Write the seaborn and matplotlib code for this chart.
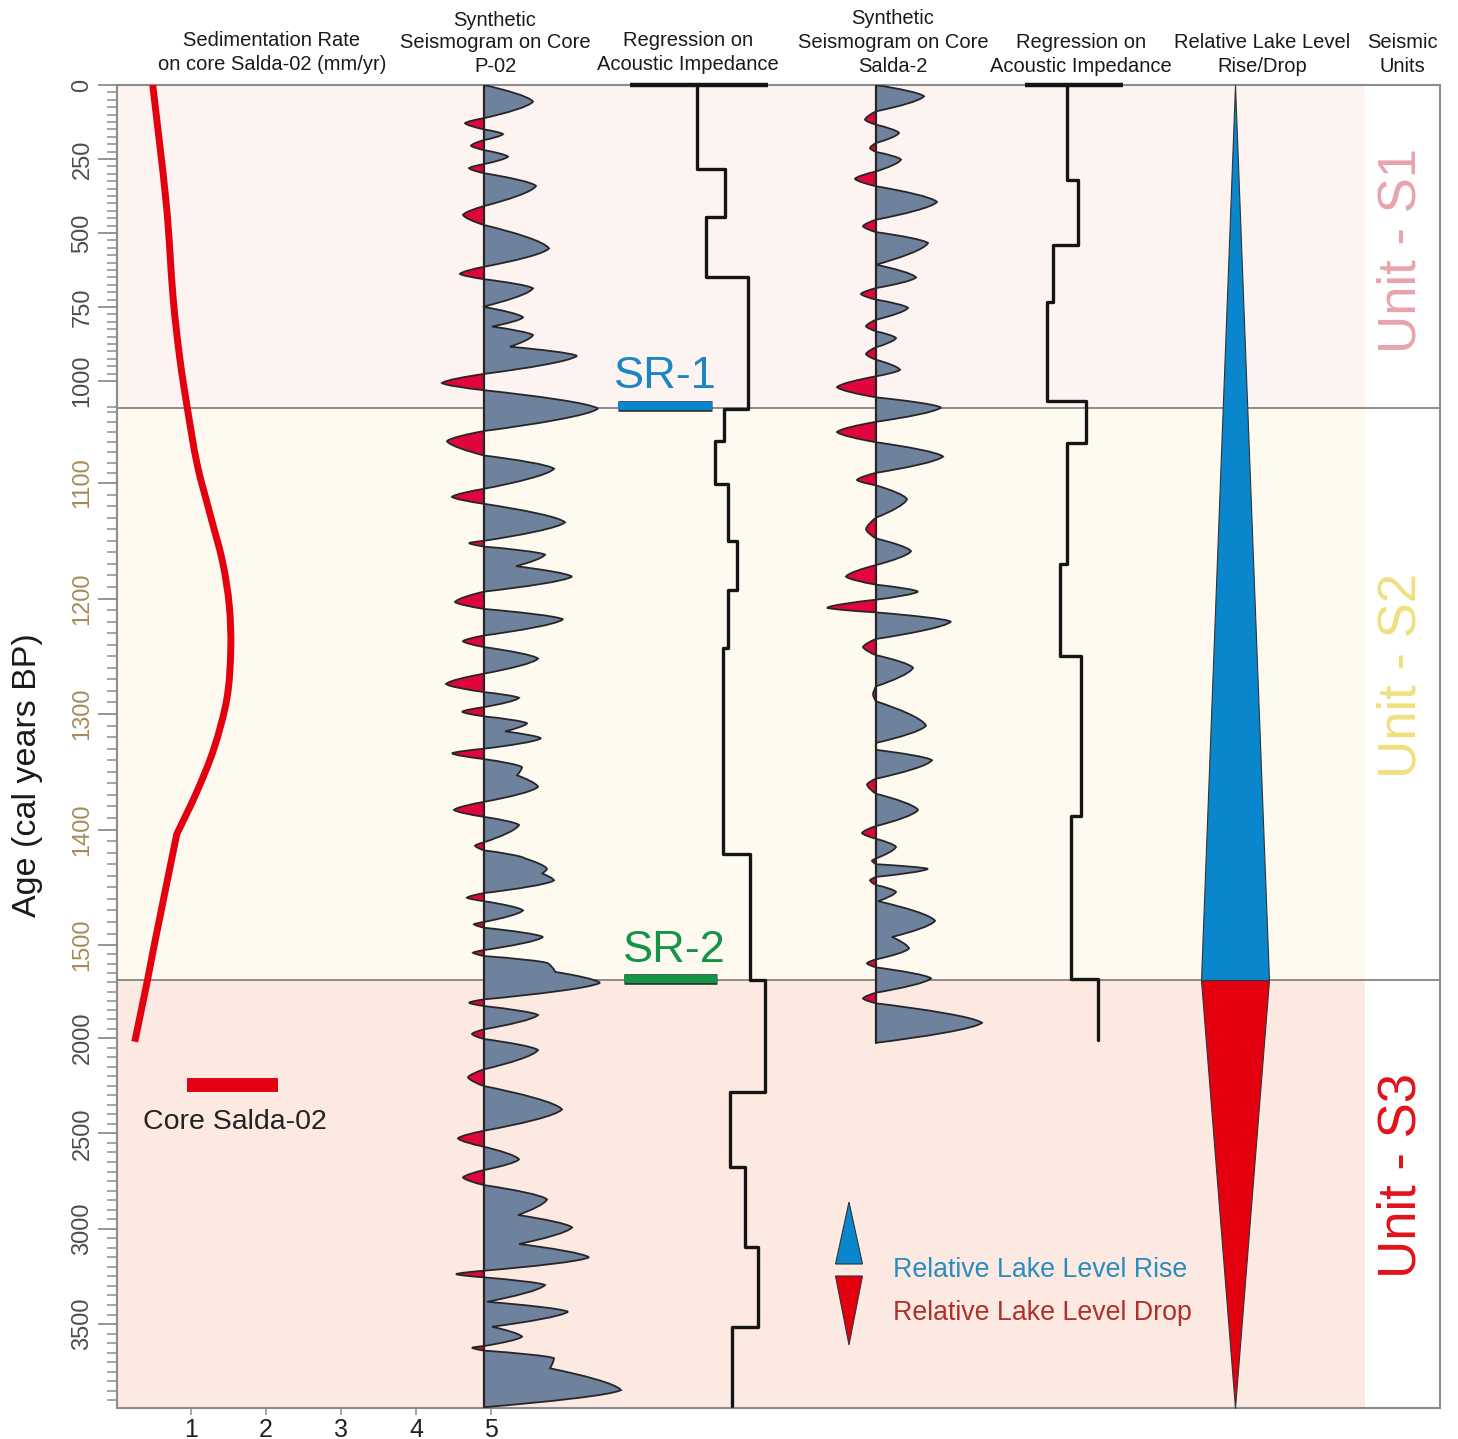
import numpy as np
import matplotlib
matplotlib.use("Agg")
import matplotlib.pyplot as plt
import matplotlib.transforms as mtransforms
import seaborn as sns
from matplotlib.patches import Polygon, PathPatch, Rectangle
from matplotlib.path import Path
from matplotlib.ticker import FixedLocator

# ---------------- data ----------------
# Sedimentation rate on core Salda-02 (mm/yr) vs age (cal yr BP)
SED_AGE = [0, 401, 714, 922, 1026, 1081, 1126, 1168, 1206, 1244, 1286, 1329, 1367, 1404, 1500, 1688, 2019]
SED_RATE = [0.49, 0.67, 0.76, 0.85, 0.95, 1.08, 1.25, 1.42, 1.51, 1.53, 1.48, 1.31, 1.08, 0.81, 0.51, 0.42, 0.25]
SED_KINK = 1404

# Synthetic seismogram on core P-02 (relative amplitude)
P02_AGE = [0, 56, 112, 129, 150, 166, 186, 205, 220, 242, 267, 281, 298, 341, 409, 439, 473, 552, 614, 638,
           656, 687, 749, 785, 816, 845, 884, 915, 976, 1002, 1009, 1027, 1049, 1059, 1073, 1086, 1105, 1112,
           1118, 1134, 1150, 1152, 1155, 1162, 1172, 1181, 1194, 1203, 1209, 1218, 1232, 1237, 1242, 1252,
           1265, 1274, 1281, 1286, 1294, 1298, 1302, 1308, 1315, 1321, 1330, 1334, 1339, 1346, 1353, 1363,
           1376, 1383, 1389, 1396, 1411, 1414, 1418, 1425, 1434, 1438, 1444, 1455, 1459, 1462, 1470, 1480,
           1482, 1485, 1493, 1527, 1541, 1559, 1598, 1644, 1703, 1792, 1810, 1828, 1876, 1953, 1978, 2005,
           2063, 2164, 2206, 2252, 2374, 2486, 2526, 2570, 2636, 2692, 2731, 2771, 2846, 2928, 2993, 3080,
           3150, 3220, 3238, 3255, 3295, 3383, 3435, 3514, 3566, 3615, 3624, 3639, 3679, 3732, 3846, 3936]
P02_AMP = [0, 0.49, 0, -0.19, 0, 0.19, 0, -0.13, 0, 0.24, 0, -0.15, 0, 0.52, 0, -0.21, 0, 0.65, 0, -0.24,
           0, 0.49, -0.01, 0.39, 0.08, 0.49, 0.26, 0.93, 0, -0.42, 0, 1.14, 0, -0.37, 0, 0.70, 0, -0.32,
           0, 0.81, 0, -0.15, 0, 0.61, 0.32, 0.88, 0, -0.29, 0, 0.79, 0, -0.21, 0, 0.54,
           0, -0.38, 0, 0.35, 0, -0.22, 0, 0.43, 0.21, 0.57, 0, -0.32, 0, 0.38, 0.33, 0.54,
           0, -0.30, 0, 0.35, 0, -0.09, 0, 0.41, 0.63, 0.58, 0.70, 0, -0.17, 0, 0.39, 0,
           -0.10, 0, 0.59, 0, -0.11, 0, 0.64, 0.71, 1.16, 0, -0.15, 0, 0.54, 0, -0.12, 0,
           0.54, 0, -0.16, 0, 0.78, 0, -0.26, 0, 0.35, 0, -0.21, 0, 0.63, 0.34, 0.88, 0.35,
           1.05, 0, -0.28, 0, 0.61, 0.03, 0.84, 0.08, 0.38, 0, -0.12, 0, 0.70, 0.66, 1.37, 0]

# Synthetic seismogram on core Salda-2 (relative amplitude)
S2_AGE = [0, 38, 89, 117, 134, 162, 196, 213, 226, 252, 292, 317, 342, 395, 455, 477, 497, 534, 607, 650,
          686, 706, 725, 753, 793, 815, 832, 855, 886, 909, 928, 962, 984, 1006, 1016, 1026, 1040, 1050,
          1060, 1074, 1090, 1097, 1102, 1114, 1130, 1140, 1148, 1159, 1171, 1181, 1188, 1194, 1201, 1208,
          1212, 1220, 1235, 1242, 1249, 1260, 1276, 1283, 1289, 1310, 1325, 1331, 1340, 1356, 1361, 1369,
          1383, 1397, 1403, 1408, 1415, 1425, 1427, 1430, 1434, 1441, 1444, 1448, 1454, 1462, 1479, 1493,
          1518, 1577, 1598, 1620, 1679, 1756, 1787, 1813, 1918, 2025]
S2_AMP = [0, 0.48, 0, -0.11, 0, 0.23, 0, -0.06, 0, 0.25, 0, -0.21, 0, 0.61, 0, -0.13, 0, 0.52, 0, 0.40,
          0, -0.15, 0, 0.32, 0, -0.10, 0, 0.20, 0, -0.10, 0, 0.24, 0, -0.39, 0, 0.65, 0, -0.39,
          0, 0.67, 0, -0.19, 0, 0.31, 0, -0.10, 0, 0.35, 0, -0.30, 0, 0.42, 0, -0.49,
          0, 0.75, 0, -0.13, 0, 0.37, 0, -0.03, 0, 0.50, 0, 0, 0.56, 0, -0.09, 0,
          0.42, 0, -0.14, 0, 0.20, 0, -0.04, 0, 0.52, 0, -0.06, 0, 0.20, 0.02, 0.59, 0.16,
          0.33, 0, -0.09, 0, 0.55, 0, -0.13, 0, 1.06, 0]

# Regression on acoustic impedance (step curves: top age of each step and value)
IMP1_TOP = [0, 285, 445, 648, 1027, 1059, 1101, 1150, 1193, 1243, 1421, 1688, 2282, 2675, 3094, 3514]
IMP1_VAL = [6.7, 9.5, 7.6, 11.8, 9.4, 8.5, 9.8, 10.7, 9.8, 9.3, 12.0, 13.5, 10.0, 11.5, 12.8, 10.2]
IMP1_END = 3930
IMP1_CAP = 13.8
IMP2_TOP = [0, 320, 539, 733, 1020, 1061, 1170, 1250, 1388, 1684]
IMP2_VAL = [4.2, 5.3, 2.8, 2.2, 6.1, 4.2, 3.5, 5.6, 4.6, 7.3]
IMP2_END = 2010
IMP2_CAP = 9.8

# Relative lake level (half-width of the wedge)
LAKE_AGE = [0, 1688, 3940]
LAKE_HALF = [0, 1, 0]

# Seismic reflectors / unit boundaries
SR1_AGE, SR2_AGE = 1026, 1688
AGE_MAX = 3940

YTICKS = [0, 250, 500, 750, 1000, 1100, 1200, 1300, 1400, 1500, 2000, 2500, 3000, 3500]
XTICKS = [1, 2, 3, 4, 5]
UNITS = ["Unit - S1", "Unit - S2", "Unit - S3"]

# ---------------- style ----------------
W, H = 1458, 1439
sns.set_theme(style="white")
plt.rcParams["font.family"] = ["Liberation Sans", "DejaVu Sans"]

POS_C = "#6e819d"
NEG_C = "#e0063c"
OUT_C = "#262626"
RED = "#e3000f"
BLUE = "#0a86cd"
BAND = ["#fdf3f0", "#fefaf0", "#fce9e2"]
GRAY = "#8c8c8c"

fig = plt.figure(figsize=(W / 100, H / 100), dpi=100)
fig.patch.set_facecolor("white")

X0, X1, YT, YB = 117, 1440, 85, 1408

# piecewise-linear age axis of the original figure
AGE_KNOTS = np.array([-1000, 0, 1000, 1100, 1500, 2000, 3500, 10000], dtype=float)
POS_KNOTS = np.array([-296, 0, 296, 398, 860, 953, 1239, 2478.5], dtype=float)


def fwd(a):
    return np.interp(a, AGE_KNOTS, POS_KNOTS)


def inv(p):
    return np.interp(p, POS_KNOTS, AGE_KNOTS)


def px(x, y):
    return x / W, 1 - y / H


def make_axes(x0, x1, xlim, off=True):
    a = fig.add_axes([x0 / W, 1 - YB / H, (x1 - x0) / W, (YB - YT) / H])
    a.set_yscale("function", functions=(fwd, inv))
    a.set_xlim(*xlim)
    a.set_ylim(AGE_MAX, 0)
    if off:
        a.set_axis_off()
    return a


def wiggle_path(xs, ys):
    """Smooth wiggle trace through the read points (extrema and zero crossings)."""
    xs = np.asarray(xs, float)
    yp = fwd(np.asarray(ys, float))
    verts = [(xs[0], yp[0])]
    codes = [Path.MOVETO]
    for i in range(len(xs) - 1):
        x0, x1 = xs[i], xs[i + 1]
        y0, y1 = yp[i], yp[i + 1]
        dx, dy = x1 - x0, y1 - y0
        if abs(x1) >= abs(x0):
            c1 = (x0 + 0.45 * dx, y0 + 0.3 * dy)
            c2 = (x0 + 0.93 * dx, y1 - 0.3 * dy)
        else:
            c1 = (x0 + 0.07 * dx, y0 + 0.3 * dy)
            c2 = (x0 + 0.55 * dx, y1 - 0.3 * dy)
        verts += [c1, c2, (x1, y1)]
        codes += [Path.CURVE4] * 3
    v = np.array(verts, float)
    v[:, 1] = inv(v[:, 1])
    return v, codes


def smooth_path(xs, ys, breaks=()):
    """Catmull-Rom curve through the read points, with corners kept at `breaks`."""
    xs = np.asarray(xs, float)
    ys = np.asarray(ys, float)
    cut = [0] + [int(np.where(ys == b)[0][0]) for b in breaks] + [len(xs) - 1]
    verts, codes = [], []
    for k in range(len(cut) - 1):
        P = np.column_stack([xs[cut[k]:cut[k + 1] + 1], fwd(ys[cut[k]:cut[k + 1] + 1])])
        n = len(P)
        if k == 0:
            verts.append(P[0])
            codes.append(Path.MOVETO)
        for i in range(n - 1):
            pm = P[i - 1] if i > 0 else P[i]
            pp = P[i + 2] if i + 2 < n else P[i + 1]
            verts += [P[i] + (P[i + 1] - pm) / 6, P[i + 1] - (pp - P[i]) / 6, P[i + 1]]
            codes += [Path.CURVE4] * 3
    v = np.array(verts, float)
    v[:, 1] = inv(v[:, 1])
    return Path(v, codes)


# ---------------- main frame (sedimentation rate) ----------------
ax = make_axes(X0, X1, (1 + (X0 - 191) / 75, 1 + (X1 - 191) / 75), off=False)
ax.set_facecolor("white")
frac = (1365 - X0) / (X1 - X0)
ax.axhspan(0, SR1_AGE, xmin=0, xmax=frac, color=BAND[0], lw=0, zorder=0)
ax.axhspan(SR1_AGE, SR2_AGE, xmin=0, xmax=frac, color=BAND[1], lw=0, zorder=0)
ax.axhspan(SR2_AGE, AGE_MAX, xmin=0, xmax=frac, color=BAND[2], lw=0, zorder=0)
for b in (SR1_AGE, SR2_AGE):
    ax.axhline(b, color="#7a7a7a", lw=1.2, zorder=1)

ax.add_patch(PathPatch(smooth_path(SED_RATE, SED_AGE, breaks=(SED_KINK,)), fill=False,
                       ec=RED, lw=5.0, capstyle="butt", joinstyle="miter", zorder=3))
# legend bar for the sed-rate curve
ax.plot([0.95, 2.16], [2246, 2246], color=RED, lw=10, solid_capstyle="butt", zorder=3)

ax.set_xlim(1 + (X0 - 191) / 75, 1 + (X1 - 191) / 75)
ax.set_ylim(AGE_MAX, 0)
ax.set_xlabel("")
ax.set_ylabel("")
for s in ax.spines.values():
    s.set_visible(True)
    s.set_color(GRAY)
    s.set_linewidth(1.5)

ax.yaxis.set_major_locator(FixedLocator(YTICKS))
minor = list(np.arange(0, 1030, 25)) + list(np.arange(1030, 1500, 10)) + list(np.arange(1550, AGE_MAX, 50))
ax.yaxis.set_minor_locator(FixedLocator(minor))
ax.set_yticklabels([str(v) for v in YTICKS], rotation=90, va="center", fontsize=17)
ax.tick_params(axis="y", which="major", left=True, length=14, width=1.3, pad=3, color=GRAY)
ax.tick_params(axis="y", which="minor", left=True, length=7, width=1.1, color=GRAY)
for lab, v in zip(ax.get_yticklabels(), YTICKS):
    lab.set_color("#a68a5b" if 1000 < v <= 1500 else "#4d4d4d")
for t, v in zip(ax.yaxis.get_major_ticks(), YTICKS):
    if v <= 1000:
        t.tick1line.set_color("#d8a3ab")
mlocs = ax.yaxis.get_minorticklocs()
for t, v in zip(ax.yaxis.get_minor_ticks(len(mlocs)), mlocs):
    if v <= 1030:
        t.tick1line.set_color("#d8a3ab")

ax.set_xticks(XTICKS)
ax.set_xticklabels([str(v) for v in XTICKS], fontsize=18, color="#222222")
ax.tick_params(axis="x", bottom=True, length=5, width=1.1, color=GRAY, pad=2)

# ---------------- synthetic seismograms ----------------
def seismo(a, age, amp):
    v, codes = wiggle_path(amp, age)
    closed = Path(np.vstack([v, [v[0], v[0]]]), codes + [Path.LINETO, Path.CLOSEPOLY])
    blend = mtransforms.blended_transform_factory(a.transData, a.transAxes)
    for color, x0 in ((POS_C, 0), (NEG_C, -100)):
        patch = PathPatch(closed, fc=color, ec="none", lw=0)
        a.add_patch(patch)
        clip = Rectangle((x0, -1), 100, 3, transform=blend)
        patch.set_clip_path(clip)
    a.add_patch(PathPatch(Path(v, codes), fill=False, ec=OUT_C, lw=1.3))
    a.plot([0, 0], [age[0], age[-1]], color=OUT_C, lw=1.6)
    a.set_ylim(AGE_MAX, 0)


ax_p02 = make_axes(420, 640, (-0.64, 1.56))
seismo(ax_p02, P02_AGE, P02_AMP)
ax_p02.set_xlim(-0.64, 1.56)

ax_s2 = make_axes(800, 1010, (-0.76, 1.34))
seismo(ax_s2, S2_AGE, S2_AMP)
ax_s2.set_xlim(-0.76, 1.34)

# ---------------- acoustic impedance steps ----------------
def steps(a, tops, vals, end, cap, xlim):
    ys = np.repeat(np.append(np.asarray(tops, float), end), 2)[1:-1]
    xs = np.repeat(np.asarray(vals, float), 2)
    sns.lineplot(x=xs, y=ys, orient="y", sort=False, estimator=None, ax=a,
                 color="#151515", lw=2.4)
    a.plot([0, cap], [0, 0], color="#151515", lw=3.2, clip_on=False, solid_capstyle="butt")
    a.set_xlim(*xlim)
    a.set_ylim(AGE_MAX, 0)


ax_i1 = make_axes(600, 790, (-3, 16))
steps(ax_i1, IMP1_TOP, IMP1_VAL, IMP1_END, IMP1_CAP, (-3, 16))
# seismic reflector markers
ax_i1.plot([-1.25, 8.15], [1024, 1024], color=BLUE, lw=6, solid_capstyle="butt", zorder=4)
ax_i1.plot([-1.25, 8.15], [1024, 1024], color="#2a2a2a", lw=7.6, solid_capstyle="butt", zorder=3)
ax_i1.plot([-0.6, 8.7], [1683, 1683], color="#149447", lw=6, solid_capstyle="butt", zorder=4)
ax_i1.plot([-0.6, 8.7], [1683, 1683], color="#2a2a2a", lw=7.6, solid_capstyle="butt", zorder=3)

ax_i2 = make_axes(1000, 1140, (-2.5, 11.5))
steps(ax_i2, IMP2_TOP, IMP2_VAL, IMP2_END, IMP2_CAP, (-2.5, 11.5))

# ---------------- relative lake level wedge ----------------
ax_l = make_axes(1201, 1269, (-1, 1))
la = np.asarray(LAKE_AGE, float)
lh = np.asarray(LAKE_HALF, float)
ax_l.fill_betweenx(la[:2], -lh[:2], lh[:2], color=BLUE, edgecolor="#333333", lw=0.8)
ax_l.fill_betweenx(la[1:], -lh[1:], lh[1:], color=RED, edgecolor="#333333", lw=0.8)

# legend glyphs for lake level
ax_leg = fig.add_axes([830 / W, 1 - 1350 / H, 40 / W, 155 / H])
ax_leg.set_xlim(0, 40)
ax_leg.set_ylim(155, 0)
ax_leg.set_axis_off()
ax_leg.add_patch(Polygon([[19, 7], [5.5, 69], [32.5, 69]], closed=True, fc=BLUE, ec="#333333", lw=0.8))
ax_leg.add_patch(Polygon([[5.5, 81], [32.5, 81], [19, 150]], closed=True, fc=RED, ec="#333333", lw=0.8))

# ---------------- texts ----------------
HEADERS = [
    (272, [(41, "Sedimentation Rate"), (65, "on core Salda-02 (mm/yr)")]),
    (495, [(20, "Synthetic"), (42, "Seismogram on Core"), (66, "P-02")]),
    (688, [(41, "Regression on"), (65, "Acoustic Impedance")]),
    (893, [(19, "Synthetic"), (42, "Seismogram on Core"), (66, "Salda-2")]),
    (1081, [(42, "Regression on"), (66, "Acoustic Impedance")]),
    (1262, [(42, "Relative Lake Level"), (66, "Rise/Drop")]),
    (1402, [(42, "Seismic"), (66, "Units")]),
]
for cx, lines in HEADERS:
    for y, t in lines:
        fig.text(*px(cx, y), t, ha="center", va="center", fontsize=14.5, color="#1a1a1a")

fig.text(*px(28, 775), "Age (cal years BP)", rotation=90, ha="center", va="center",
         fontsize=24.5, color="#1a1a1a")
fig.text(*px(143, 1122), "Core Salda-02", ha="left", va="center", fontsize=20.5, color="#222222")
fig.text(*px(665, 377), "SR-1", ha="center", va="center", fontsize=32.5, color="#1a86c4")
fig.text(*px(674, 950), "SR-2", ha="center", va="center", fontsize=32.5, color="#149447")
fig.text(*px(893, 1270), "Relative Lake Level Rise", ha="left", va="center", fontsize=19.3, color="#2a8cc0")
fig.text(*px(893, 1313), "Relative Lake Level Drop", ha="left", va="center", fontsize=19.3, color="#b0302a")

UNIT_COL = ["#e8a4ac", "#efe080", "#e0141a"]
UNIT_Y = [250, 675, 1175]
for name, col, y in zip(UNITS, UNIT_COL, UNIT_Y):
    fig.text(*px(1402, y), name, rotation=90, ha="center", va="center", fontsize=38, color=col)

fig.savefig("out.png", dpi=100, facecolor="white")
